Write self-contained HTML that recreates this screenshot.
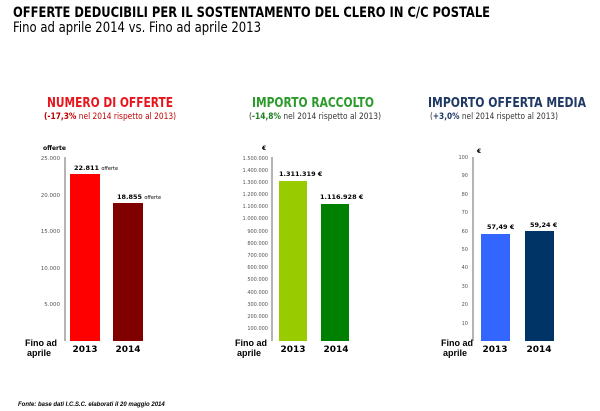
<!DOCTYPE html>
<html><head><meta charset="utf-8"><style>html,body{margin:0;padding:0;background:#fff}svg{display:block}</style></head><body>
<svg width="600" height="411" viewBox="0 0 600 411" xmlns="http://www.w3.org/2000/svg" font-family="'DejaVu Sans', 'Liberation Sans', sans-serif">
<text x="13" y="17" font-size="14" font-weight="bold" textLength="477" lengthAdjust="spacingAndGlyphs">OFFERTE DEDUCIBILI PER IL SOSTENTAMENTO DEL CLERO IN C/C POSTALE</text>
<text x="13" y="32" font-size="14" textLength="248" lengthAdjust="spacingAndGlyphs">Fino ad aprile 2014 vs. Fino ad aprile 2013</text>

<!-- Chart 1 -->
<text x="110" y="107" font-size="13" font-weight="bold" fill="#e8131b" text-anchor="middle" textLength="126" lengthAdjust="spacingAndGlyphs">NUMERO DI OFFERTE</text>
<text x="110" y="119" font-size="9" fill="#c00000" text-anchor="middle" textLength="132" lengthAdjust="spacingAndGlyphs"><tspan font-weight="bold">(-17,3%</tspan> nel 2014 rispetto al 2013)</text>
<text x="43" y="150" font-size="6" font-weight="bold">offerte</text>
<g font-size="5.5" fill="#555" text-anchor="end">
<text x="60" y="160">25.000</text><text x="60" y="197">20.000</text><text x="60" y="233">15.000</text><text x="60" y="270">10.000</text><text x="60" y="306">5.000</text></g>
<line x1="65" y1="157" x2="65" y2="341" stroke="#444" stroke-width="0.8"/>
<rect x="70" y="174" width="30" height="167" fill="#ff0000"/>
<rect x="113" y="203" width="30" height="138" fill="#800000"/>
<text x="74" y="170" font-size="6.5" font-weight="bold">22.811 <tspan font-size="5" font-weight="normal">offerte</tspan></text>
<text x="117" y="199" font-size="6.5" font-weight="bold">18.855 <tspan font-size="5" font-weight="normal">offerte</tspan></text>
<text x="85" y="352" font-size="9" font-weight="bold" text-anchor="middle">2013</text>
<text x="128" y="352" font-size="9" font-weight="bold" text-anchor="middle">2014</text>
<text x="25" y="346" font-size="9" font-weight="bold" font-family="'Liberation Sans',sans-serif">Fino ad</text>
<text x="27" y="356" font-size="9" font-weight="bold" font-family="'Liberation Sans',sans-serif">aprile</text>

<!-- Chart 2 -->
<text x="313" y="107" font-size="13" font-weight="bold" fill="#2a9a2a" text-anchor="middle" textLength="122" lengthAdjust="spacingAndGlyphs">IMPORTO RACCOLTO</text>
<text x="315" y="119" font-size="9" fill="#333" text-anchor="middle" textLength="132" lengthAdjust="spacingAndGlyphs">(<tspan font-weight="bold" fill="#1e7d1e">-14,8%</tspan> nel 2014 rispetto al 2013)</text>
<text x="262" y="150" font-size="6" font-weight="bold">€</text>
<g font-size="5" fill="#555" text-anchor="end">
<text x="268" y="160">1.500.000</text><text x="268" y="172">1.400.000</text><text x="268" y="184">1.300.000</text><text x="268" y="196">1.200.000</text><text x="268" y="208">1.100.000</text><text x="268" y="220">1.000.000</text><text x="268" y="233">900.000</text><text x="268" y="245">800.000</text><text x="268" y="257">700.000</text><text x="268" y="269">600.000</text><text x="268" y="281">500.000</text><text x="268" y="294">400.000</text><text x="268" y="306">300.000</text><text x="268" y="318">200.000</text><text x="268" y="330">100.000</text></g>
<line x1="272" y1="157" x2="272" y2="341" stroke="#444" stroke-width="0.8"/>
<rect x="279" y="181" width="28" height="160" fill="#99cc00"/>
<rect x="321" y="204" width="28" height="137" fill="#008000"/>
<text x="279" y="176" font-size="6.5" font-weight="bold">1.311.319 €</text>
<text x="320" y="199" font-size="6.5" font-weight="bold">1.116.928 €</text>
<text x="293" y="352" font-size="9" font-weight="bold" text-anchor="middle">2013</text>
<text x="336" y="352" font-size="9" font-weight="bold" text-anchor="middle">2014</text>
<text x="235" y="346" font-size="9" font-weight="bold" font-family="'Liberation Sans',sans-serif">Fino ad</text>
<text x="237" y="356" font-size="9" font-weight="bold" font-family="'Liberation Sans',sans-serif">aprile</text>

<!-- Chart 3 -->
<text x="507" y="107" font-size="13" font-weight="bold" fill="#1f3864" text-anchor="middle" textLength="158" lengthAdjust="spacingAndGlyphs">IMPORTO OFFERTA MEDIA</text>
<text x="494" y="119" font-size="9" fill="#333" text-anchor="middle" textLength="128" lengthAdjust="spacingAndGlyphs">(<tspan font-weight="bold" fill="#1f3864">+3,0%</tspan> nel 2014 rispetto al 2013)</text>
<text x="477" y="153" font-size="6" font-weight="bold">€</text>
<g font-size="5" fill="#555" text-anchor="end">
<text x="468" y="159">100</text><text x="468" y="177">90</text><text x="468" y="196">80</text><text x="468" y="214">70</text><text x="468" y="233">60</text><text x="468" y="251">50</text><text x="468" y="269">40</text><text x="468" y="288">30</text><text x="468" y="306">20</text><text x="468" y="325">10</text></g>
<line x1="473" y1="157" x2="473" y2="341" stroke="#444" stroke-width="0.8"/>
<rect x="481" y="234" width="29" height="107" fill="#3366ff"/>
<rect x="525" y="231" width="29" height="110" fill="#003366"/>
<text x="487" y="229" font-size="6.5" font-weight="bold">57,49 €</text>
<text x="530" y="227" font-size="6.5" font-weight="bold">59,24 €</text>
<text x="495" y="352" font-size="9" font-weight="bold" text-anchor="middle">2013</text>
<text x="539" y="352" font-size="9" font-weight="bold" text-anchor="middle">2014</text>
<text x="441" y="346" font-size="9" font-weight="bold" font-family="'Liberation Sans',sans-serif">Fino ad</text>
<text x="443" y="356" font-size="9" font-weight="bold" font-family="'Liberation Sans',sans-serif">aprile</text>

<text x="18" y="406" font-size="6" font-weight="bold" font-style="italic" font-family="'Liberation Sans',sans-serif">Fonte: base dati I.C.S.C. elaborati il  20 maggio 2014</text>
</svg>
</body></html>
